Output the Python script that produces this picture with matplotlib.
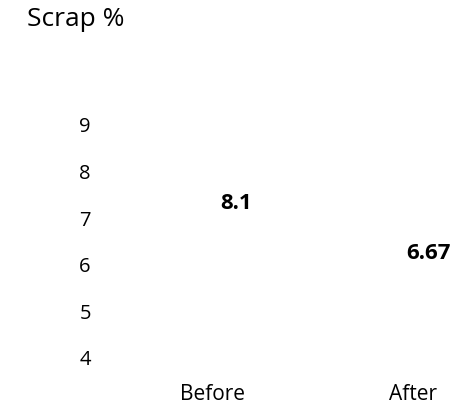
"""Scrap % before vs. after (bars are drawn white, only labels show)."""
import matplotlib
matplotlib.use("Agg")
import matplotlib.pyplot as plt

categories = ["Before", "After"]
scrap_pct = [8.1, 6.67]
value_labels = ["8.1", "6.67"]
y_ticks = [4, 5, 6, 7, 8, 9]

# label offsets in points from the bar top
label_offsets = [(16.5, -26), (11.5, -14)]

plt.rcParams["font.family"] = ["Open Sans", "DejaVu Sans"]

W, H = 467, 406
fig = plt.figure(figsize=(W / 100, H / 100), dpi=100)
ax = fig.add_axes([113 / W, (H - 358) / H, (W - 113) / W, (358 - 125) / H])

x = list(range(len(categories)))
ax.bar(x, scrap_pct, width=0.6, color="white")

ax.set_xlim(-0.5, -0.5 + (W - 113) / 200)
ax.set_ylim(4, 9)
ax.set_yticks(y_ticks)
ax.set_xticks(x)
ax.set_xticklabels(categories)
ax.tick_params(axis="y", length=0, labelsize=14.5, pad=16)
ax.tick_params(axis="x", length=0, labelsize=15, pad=19)

for xi, v, lab, off in zip(x, scrap_pct, value_labels, label_offsets):
    ax.annotate(lab, (xi, v), xytext=off, textcoords="offset points",
                ha="center", va="center", fontsize=16, fontweight="bold")

for s in ax.spines.values():
    s.set_visible(False)

fig.text(76 / W, 1 - 19 / H, "Scrap %", ha="center", va="center", fontsize=19)

fig.savefig("out.png", dpi=100)
